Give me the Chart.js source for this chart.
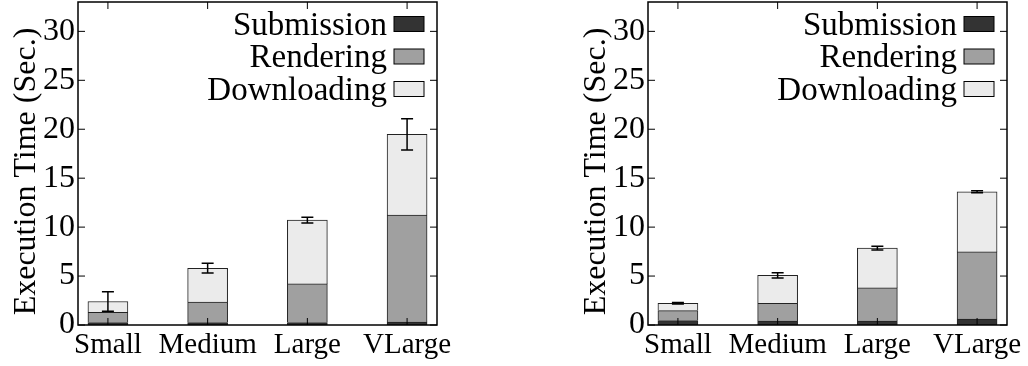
<!DOCTYPE html>
<html>
<head>
<meta charset="utf-8">
<script src="https://cdn.jsdelivr.net/npm/chart.js@4/dist/chart.umd.min.js"></script>
<style>
  html, body { margin: 0; padding: 0; background: #fff; }
  .box { position: absolute; top: 0; height: 366px; }
  #left { left: 0; width: 460px; }
  #right { left: 570px; width: 458px; }
</style>
</head>
<body>
<div class="box" id="left"><canvas id="c1"></canvas></div>
<div class="box" id="right"><canvas id="c2"></canvas></div>
<script>
const categories = ['Small', 'Medium', 'Large', 'VLarge'];
const seriesNames = ['Submission', 'Rendering', 'Downloading'];
const yTicks = [0, 5, 10, 15, 20, 25, 30];

// left panel
const submissionA = [0.25, 0.25, 0.25, 0.3];
const renderingA = [1.05, 2.1, 3.95, 10.93];
const downloadingA = [1.1, 3.45, 6.52, 8.25];
const errorA = [1.0, 0.5, 0.3, 1.6];

// right panel
const submissionB = [0.45, 0.4, 0.4, 0.61];
const renderingB = [1.02, 1.82, 3.39, 6.86];
const downloadingB = [0.75, 2.86, 4.06, 6.14];
const errorB = [0.08, 0.27, 0.2, 0.1];

const colors = ['#333333', '#a0a0a0', '#ebebeb'];
const FONT = '"Liberation Serif", "Times New Roman", serif';

// frame, inward ticks, error bars, legend and y title
const decorations = {
  id: 'decorations',
  afterDatasetsDraw(chart, args, opts) {
    const { ctx, chartArea: a, scales: { x, y } } = chart;
    ctx.save();
    // error bars
    ctx.strokeStyle = '#000';
    ctx.lineWidth = 1.5;
    opts.totals.forEach((t, i) => {
      const px = x.getPixelForValue(i);
      const top = y.getPixelForValue(t + opts.errors[i]);
      const bot = y.getPixelForValue(t - opts.errors[i]);
      ctx.beginPath();
      ctx.moveTo(px, top); ctx.lineTo(px, bot);
      ctx.moveTo(px - 6, top); ctx.lineTo(px + 6, top);
      ctx.moveTo(px - 6, bot); ctx.lineTo(px + 6, bot);
      ctx.stroke();
    });
    // frame
    ctx.lineWidth = 1.5;
    ctx.strokeRect(a.left, a.top, a.right - a.left, a.bottom - a.top);
    // inward ticks
    ctx.lineWidth = 1;
    ctx.beginPath();
    yTicks.forEach(v => {
      const py = y.getPixelForValue(v);
      ctx.moveTo(a.left, py); ctx.lineTo(a.left + 7, py);
      ctx.moveTo(a.right, py); ctx.lineTo(a.right - 7, py);
    });
    categories.forEach((c, i) => {
      const px = x.getPixelForValue(i);
      ctx.moveTo(px, a.top); ctx.lineTo(px, a.top + 7);
      ctx.moveTo(px, a.bottom); ctx.lineTo(px, a.bottom - 7);
    });
    ctx.stroke();
    // legend
    ctx.font = '33px ' + FONT;
    ctx.textAlign = 'right';
    ctx.textBaseline = 'middle';
    seriesNames.forEach((name, k) => {
      const cy = a.top + 22 + k * 32.5;
      ctx.fillStyle = '#000';
      ctx.fillText(name, a.right - 50, cy + 2);
      ctx.fillStyle = colors[k];
      ctx.fillRect(a.right - 43, cy - 7.5, 30, 15);
      ctx.strokeStyle = '#000';
      ctx.lineWidth = 1;
      ctx.strokeRect(a.right - 43, cy - 7.5, 30, 15);
    });
    // y axis title
    ctx.translate(35, (a.top + a.bottom) / 2 + 8);
    ctx.rotate(-Math.PI / 2);
    ctx.textAlign = 'center';
    ctx.textBaseline = 'alphabetic';
    ctx.font = '32px ' + FONT;
    ctx.fillStyle = '#000';
    ctx.fillText('Execution Time (Sec.)', 0, 0);
    ctx.restore();
  }
};

function makeChart(id, sub, rend, down, err, padRight) {
  const stacks = [sub, rend, down];
  const totals = sub.map((v, i) => v + rend[i] + down[i]);
  new Chart(document.getElementById(id), {
    type: 'bar',
    data: {
      datasets: seriesNames.map((name, k) => ({
        label: name,
        data: stacks[k].map((v, i) => ({ x: i, y: v })),
        backgroundColor: colors[k],
        borderColor: '#222',
        borderWidth: 1,
        barThickness: 40,
        stack: 'all',
      })),
    },
    options: {
      responsive: true,
      maintainAspectRatio: false,
      animation: false,
      layout: { padding: { top: 2, right: padRight, left: 0, bottom: 0 } },
      plugins: {
        legend: { display: false },
        tooltip: { enabled: false },
        decorations: { totals: totals, errors: err },
      },
      scales: {
        x: {
          type: 'linear',
          offset: false,
          bounds: 'data',
          min: -0.3,
          max: 3.3,
          grid: { display: false, drawTicks: false, offset: false },
          border: { display: false },
          afterBuildTicks: s => { s.ticks = categories.map((c, i) => ({ value: i })); },
          afterFit: s => { s.height = 41; s.paddingLeft = 0; s.paddingRight = 0; },
          ticks: {
            maxRotation: 0,
            autoSkip: false,
            padding: 3,
            color: '#000',
            font: { family: FONT, size: 29 },
            callback: v => categories[v],
          },
        },
        y: {
          stacked: true,
          min: 0,
          max: 33,
          grid: { display: false, drawTicks: false },
          border: { display: false },
          afterBuildTicks: s => { s.ticks = yTicks.map(v => ({ value: v })); },
          afterFit: s => { s.width = 78; s.paddingTop = 0; s.paddingBottom = 0; },
          ticks: {
            padding: 3,
            color: '#000',
            font: { family: FONT, size: 32 },
          },
        },
      },
    },
    plugins: [decorations],
  });
}

makeChart('c1', submissionA, renderingA, downloadingA, errorA, 23);
makeChart('c2', submissionB, renderingB, downloadingB, errorB, 21);
</script>
</body>
</html>
